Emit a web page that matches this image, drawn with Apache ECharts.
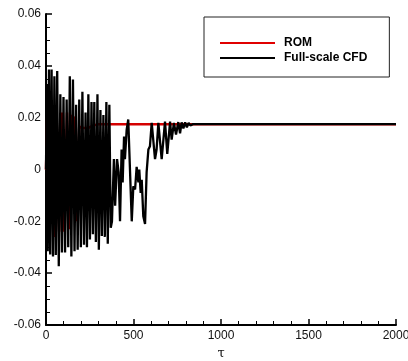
<!DOCTYPE html>
<html><head><meta charset="utf-8">
<script src="https://cdn.jsdelivr.net/npm/echarts@6/dist/echarts.min.js"></script>
<style>html,body{margin:0;padding:0;background:#fff}#c{width:408px;height:361px}</style>
</head><body><div id="c"></div>
<script>
// Full-scale CFD (black)
var tCFD = [0,4,10,17,24,32,40,48,56,64,73,82,91,100,109,118,127,136,145,154,163,172,181,190,199,208,217,226,234,242,251,260,268,276,285,294,302,311,319,328,336,345,353,362,370,
  377,388,395,406,415,423,432,438,446,451,461,470,476,490,499,509,518,528,533,541,547,556,566,575,585,594,604,613,623,632,642,
  646,661,680,693,709,718,731,743,756,766,775,785,795,805,815,825,840,1000,1500,2000];
var alphaCFD = [0,0.033,-0.0315,0.0386,-0.0328,0.0386,-0.0336,0.036,-0.033,0.038,-0.0373,0.029,-0.032,0.028,-0.032,0.027,-0.030,0.036,-0.0336,0.0347,-0.0315,0.025,-0.031,0.027,-0.030,0.030,-0.029,0.022,-0.030,0.029,-0.027,0.026,-0.025,0.026,-0.028,0.029,-0.031,0.023,-0.0257,0.021,-0.026,0.026,-0.0286,0.025,-0.0225,
  -0.020,0.004,-0.014,0.004,-0.001,-0.020,0.0077,-0.005,0.0127,0.004,0.0154,0.0193,0.019,-0.020,-0.0065,-0.0077,0.001,-0.005,0.0,-0.009,-0.004,-0.018,-0.021,-0.001,0.0077,0.009,0.018,0.0178,0.004,0.0077,0.018,
  0.0185,0.004,0.0185,0.006,0.0185,0.0115,0.018,0.0135,0.0183,0.014,0.0182,0.0158,0.0182,0.0163,0.018,0.017,0.0175,0.0175,0.0175,0.0175];
// ROM (red)
var tROM = [0,8,17,30,45,60,75,90,105,120,135,148,160,175,190,210,240,270,300,2000];
var alphaROM = [0,0.024,-0.028,0.023,-0.026,0.023,-0.024,0.022,-0.024,0.022,-0.023,0.021,0.020,-0.020,0.0165,0.016,0.016,0.017,0.0175,0.0175];
var xTicks = [0,500,1000,1500,2000];
var yTicks = [-0.06,-0.04,-0.02,0,0.02,0.04,0.06];
var seriesNames = ['ROM','Full-scale CFD'];

function zip(a,b){return a.map(function(v,i){return [v,b[i]];});}
var chart = echarts.init(document.getElementById('c'), null, {renderer:'canvas'});
var lab = {color:'#111', fontSize:12, fontFamily:'Liberation Sans, Arial, sans-serif'};
chart.setOption({
  animation:false,
  backgroundColor:'#fff',
  grid:{left:46, right:12, top:14, bottom:36, containLabel:false, outerBoundsMode:'none'},
  legend:{
    data:seriesNames, orient:'vertical', left:204, top:17,
    padding:[19,22,12,16], itemGap:1, itemWidth:55, itemHeight:2, icon:'rect',
    borderColor:'#222', borderWidth:1, backgroundColor:'#fff',
    textStyle:{color:'#000', fontSize:12, fontWeight:'bold', fontFamily:'Liberation Sans, Arial, sans-serif', padding:[0,0,0,4], lineHeight:14}
  },
  xAxis:{
    type:'value', min:xTicks[0], max:xTicks[xTicks.length-1], interval:500,
    name:'τ', nameLocation:'middle', nameGap:20,
    nameTextStyle:{color:'#111', fontSize:13, fontFamily:'DejaVu Serif, serif'},
    axisLine:{onZero:false, lineStyle:{color:'#000', width:2}},
    axisTick:{inside:true, length:6, lineStyle:{color:'#000', width:1.5}},
    minorTick:{show:true, splitNumber:5, length:4, lineStyle:{color:'#000', width:1}},
    splitLine:{show:false},
    axisLabel:Object.assign({margin:5, formatter:function(v){return String(v);}}, lab)
  },
  yAxis:{
    type:'value', min:yTicks[0], max:yTicks[yTicks.length-1], interval:0.02,
    name:'α', nameLocation:'middle', nameGap:35, nameRotate:90,
    nameTextStyle:{color:'#111', fontSize:13, fontFamily:'DejaVu Serif, serif'},
    axisLine:{onZero:false, lineStyle:{color:'#000', width:2}},
    axisTick:{inside:true, length:6, lineStyle:{color:'#000', width:1.5}},
    minorTick:{show:true, splitNumber:4, length:4, lineStyle:{color:'#000', width:1}},
    splitLine:{show:false},
    axisLabel:Object.assign({margin:5, formatter:function(v){return String(+v.toFixed(2));}}, lab)
  },
  series:[
    {name:seriesNames[0], type:'line', data:zip(tROM,alphaROM), showSymbol:false, symbol:'none',
     lineStyle:{color:'#d40000', width:2.5}, itemStyle:{color:'#e00000'}, z:2},
    {name:seriesNames[1], type:'line', data:zip(tCFD,alphaCFD), showSymbol:false, symbol:'none',
     lineStyle:{color:'#000', width:2.3}, itemStyle:{color:'#000'}, z:3}
  ]
});
</script></body></html>
